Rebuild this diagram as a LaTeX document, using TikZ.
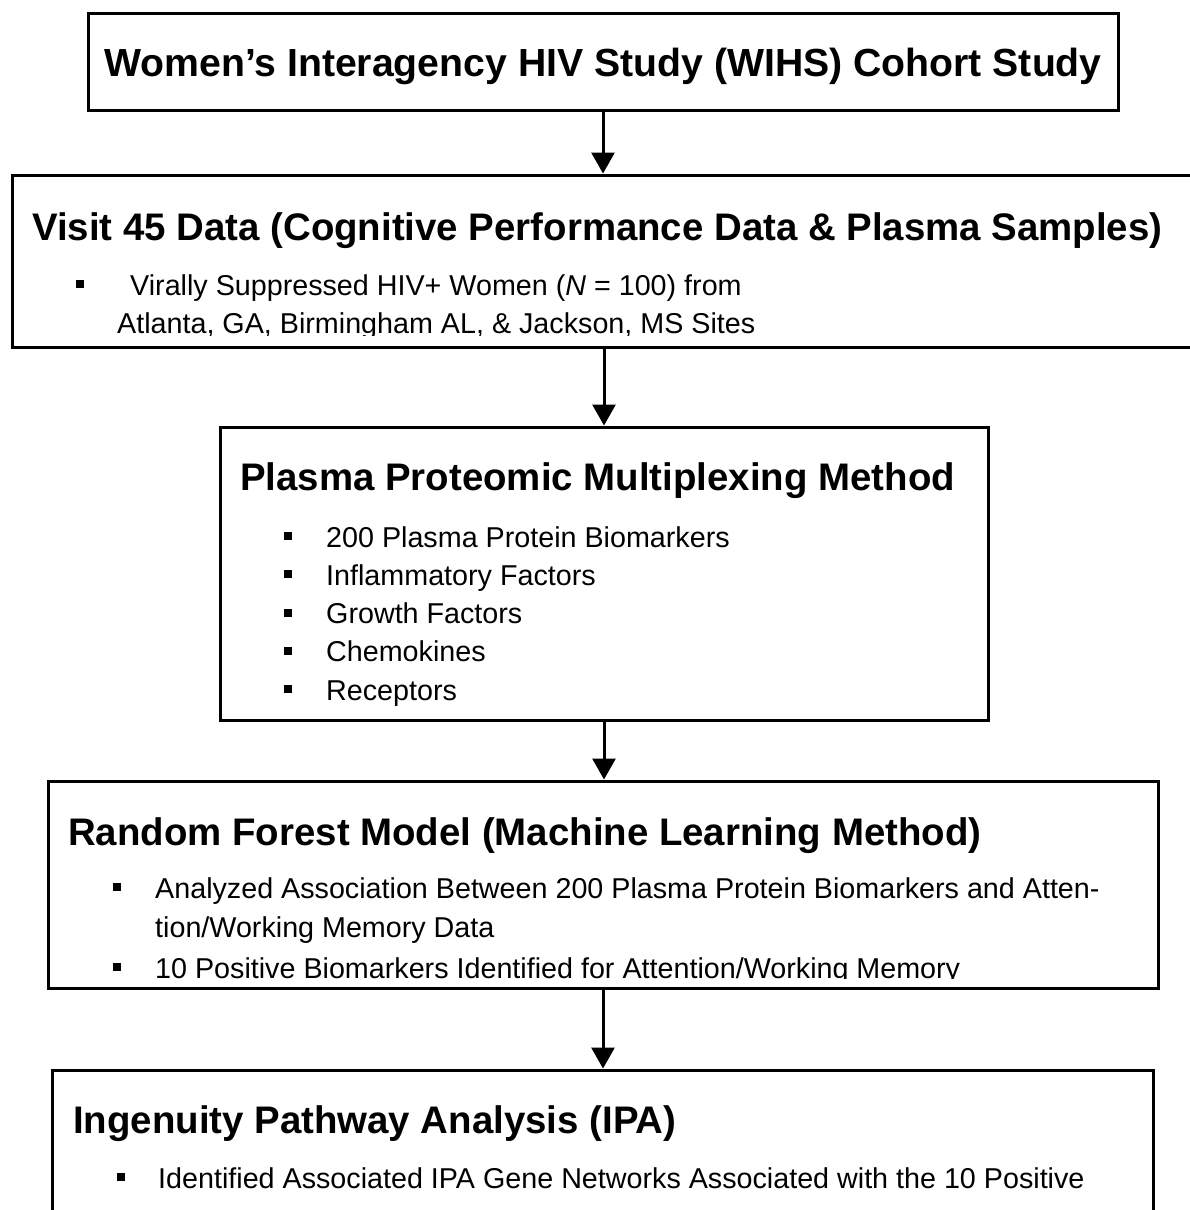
\documentclass[tikz,border=0pt]{standalone}
\usepackage{fontspec}
\setmainfont{Liberation Sans}
\usetikzlibrary{arrows.meta}
\tikzset{
  flowbox/.style={
    draw,
    line width=3pt,
    shape=rectangle,
    inner sep=0pt
  },
  headtext/.style={
    anchor=base west,
    inner sep=0pt,
    font=\fontsize{38.4}{44}\selectfont\bfseries
  },
  itemtext/.style={
    anchor=base west,
    inner sep=0pt,
    font=\fontsize{28.7}{38}\selectfont
  },
  flowarrow/.style={
    line width=3pt,
    -{Triangle[width=23pt,length=21pt]}
  }
}
\newcommand{\sqbullet}{\rule[7pt]{8pt}{8pt}}

\begin{document}
\begin{tikzpicture}[x=1pt,y=1pt]
  \clip (0,0) rectangle (1190,-1210);
  % the five stages
  \node[flowbox, minimum width=1030pt, minimum height=97pt] (cohort) at (603,-61.5) {};
  \node[flowbox, minimum width=1184pt, minimum height=172pt] (visit) at (604,-261) {};
  \node[flowbox, minimum width=768pt, minimum height=293pt] (plasma) at (604,-573.5) {};
  \node[flowbox, minimum width=1110pt, minimum height=207pt] (forest) at (603,-884.5) {};
  \node[flowbox, minimum width=1101pt, minimum height=160pt] (ipa) at (602.5,-1150) {};

  \foreach \a/\b in {cohort/visit,visit/plasma,plasma/forest,forest/ipa}
    \draw[flowarrow] (\a.south) -- (\a.south |- \b.north);

  \node[headtext, anchor=base, font=\fontsize{39.2}{44}\selectfont\bfseries] (cohorttitle) at (603,-76) {Women’s Interagency HIV Study (WIHS) Cohort Study};

  \begin{scope}
    \clip (visit.north west) rectangle ([yshift=13pt]visit.south east);
    \node[headtext] (visittitle) at (32,-240) {Visit 45 Data (Cognitive Performance Data \& Plasma Samples)};
    \node[itemtext] (visitbul) at (76,-295) {\sqbullet};
    \node[itemtext] (visitline1) at (130,-295) {Virally Suppressed HIV+ Women (\textit{N} = 100) from};
    \node[itemtext] (visitline2) at (117,-333) {Atlanta, GA, Birmingham AL, \& Jackson, MS Sites};
  \end{scope}

  \node[headtext] (plasmatitle) at (240,-490) {Plasma Proteomic Multiplexing Method};
  \foreach \t [count=\i] in {200 Plasma Protein Biomarkers, Inflammatory Factors, Growth Factors, Chemokines, Receptors}{
    \node[itemtext] (plasmabul\i) at (284,{-508.7-38.3*\i}) {\sqbullet};
    \node[itemtext] (plasmaitem\i) at (326,{-508.7-38.3*\i}) {\t};
  }

  \begin{scope}
    \clip (forest.north west) rectangle ([yshift=11pt]forest.south east);
    \node[headtext] (foresttitle) at (68,-845) {Random Forest Model (Machine Learning Method)};
    \node[itemtext] (forestbul1) at (113,-898) {\sqbullet};
    \node[itemtext] (forestitem1a) at (155,-898) {Analyzed Association Between 200 Plasma Protein Biomarkers and Atten-};
    \node[itemtext] (forestitem1b) at (155,-937) {tion/Working Memory Data};
    \node[itemtext] (forestbul2) at (113,-978) {\sqbullet};
    \node[itemtext] (forestitem2) at (155,-978) {10 Positive Biomarkers Identified for Attention/Working Memory};
  \end{scope}

  \node[headtext] (ipatitle) at (73,-1133) {Ingenuity Pathway Analysis (IPA)};
  \node[itemtext] (ipabul) at (117,-1188) {\sqbullet};
  \node[itemtext] (ipaitem) at (158,-1188) {Identified Associated IPA Gene Networks Associated with the 10 Positive};
\end{tikzpicture}
\end{document}
